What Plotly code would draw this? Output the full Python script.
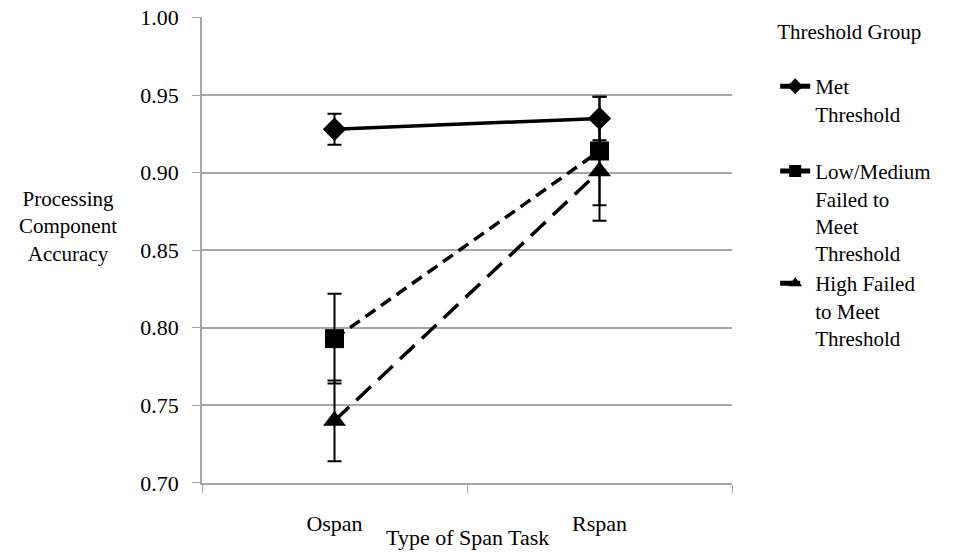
import plotly.graph_objects as go

categories = ["Ospan", "Rspan"]
series_names = ["Met<br>Threshold<br> ", "Low/Medium<br>Failed to<br>Meet<br>Threshold", "High Failed<br>to Meet<br>Threshold"]
met_values = [0.928, 0.935]
met_errors = [0.010, 0.014]
low_values = [0.793, 0.914]
low_errors = [0.029, 0.035]
high_values = [0.740, 0.901]
high_errors = [0.026, 0.032]
y_ticks = [0.70, 0.75, 0.80, 0.85, 0.90, 0.95, 1.00]

FONT = "'Liberation Serif', 'Times New Roman', Tinos, 'Nimbus Roman', serif"
FS = 22
LFS = 21
GRID = "#a6a6a6"

fig = go.Figure()

styles = [
    (met_values, met_errors, "solid", "diamond", 18),
    (low_values, low_errors, "12px,7px", "square", 19),
    (high_values, high_errors, "20px,10px", "triangle-up", 20),
]
for name, (vals, errs, dash, sym, size) in zip(series_names, styles):
    fig.add_trace(go.Scatter(
        x=categories, y=vals, name=name, mode="lines+markers",
        line=dict(color="black", width=3.5, dash=dash),
        marker=dict(symbol=sym, size=size, color="black"),
        error_y=dict(type="data", array=errs, visible=True, color="black", thickness=2, width=7),
    ))

fig.update_layout(
    width=951, height=547,
    margin=dict(l=194, r=227, t=9, b=72, autoexpand=False),
    paper_bgcolor="white", plot_bgcolor="white",
    font=dict(family=FONT, size=FS, color="black"),
    showlegend=True,
    legend=dict(
        title=dict(text="Threshold Group<br> ", font=dict(family=FONT, size=LFS)),
        x=1.0815, xanchor="left", y=1.012, yanchor="top",
        valign="top", font=dict(family=FONT, size=LFS),
        tracegroupgap=0, itemsizing="constant", bgcolor="rgba(0,0,0,0)",
        maxheight=1.0,
    ),
    xaxis=dict(
        type="category", range=[-0.5, 1.5], tickson="boundaries",
        showline=True, linecolor=GRID, linewidth=1.5,
        ticks="outside", ticklen=8, tickcolor=GRID,
        ticklabelstandoff=20, showgrid=False, zeroline=False,
        tickfont=dict(family=FONT, size=FS),
    ),
    yaxis=dict(
        range=[0.6999, 1.0004], tickvals=y_ticks, tickformat=".2f",
        showline=True, linecolor=GRID, linewidth=1.5,
        ticks="outside", ticklen=8, tickcolor=GRID,
        ticklabelstandoff=9, ticklabeloverflow="allow",
        showgrid=True, gridcolor=GRID, gridwidth=1.5, zeroline=False,
        tickfont=dict(family=FONT, size=FS),
    ),
    annotations=[
        dict(text="Processing<br>Component<br>Accuracy", xref="paper", yref="paper",
             x=-0.253, y=0.551, xanchor="center", yanchor="middle", showarrow=False,
             font=dict(family=FONT, size=21)),
        dict(text="Type of Span Task", xref="paper", yref="paper",
             x=0.5, y=-0.116, xanchor="center", yanchor="middle", showarrow=False,
             font=dict(family=FONT, size=FS)),
    ],
)

fig.write_html("out.html")
